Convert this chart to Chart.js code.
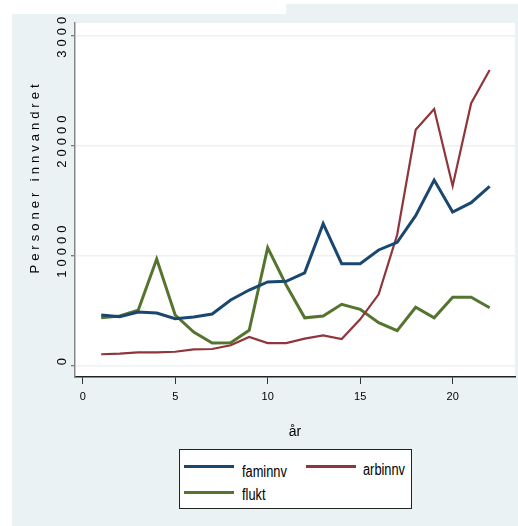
<!DOCTYPE html>
<html>
<head>
<meta charset="utf-8">
<script src="https://cdn.jsdelivr.net/npm/chart.js@4.4.1/dist/chart.umd.min.js"></script>
<style>
    body {
        margin: 0;
        width: 518px;
        height: 526px;
        position: relative;
        overflow: hidden;
        background: #fff;
    }
    #topStrip {
        position: absolute;
        left: 286px; top: 4px;
        width: 232px; height: 10px;
        background: #eaf2f3;
    }
    #wrap {
        position: absolute;
        left: 12px; top: 14px;
        width: 506px; height: 512px;
        background: #eaf2f3;
    }
    #legend {
        position: absolute;
        left: 167px; top: 435px;
        width: 231px; height: 58px;
        border: 1px solid #222;
        background: #fff;
        font-family: "Liberation Sans", Arial, sans-serif;
        font-size: 16px;
        color: #000;
    }
    #legend .swatch { position: absolute; width: 50px; height: 3px; }
    #legend .label {
        position: absolute;
        line-height: 16px;
        white-space: nowrap;
        transform: scaleX(0.8);
        transform-origin: 0 50%;
    }
</style>
</head>
<body>
<div id="topStrip"></div>
<div id="wrap">
    <canvas id="chart" width="506" height="512"></canvas>
    <div id="legend"></div>
</div>

<script>
// data
var years = [1, 2, 3, 4, 5, 6, 7, 8, 9, 10, 11, 12, 13, 14, 15, 16, 17, 18, 19, 20, 21, 22];
var faminnv = [4600, 4450, 4880, 4790, 4270, 4430, 4700, 5970, 6880, 7610, 7670, 8440, 12910, 9270, 9270, 10520, 11220, 13640, 16880, 13970, 14820, 16310];
var arbinnv = [1040, 1090, 1220, 1220, 1270, 1490, 1520, 1860, 2610, 2060, 2060, 2455, 2760, 2430, 4220, 6490, 11900, 21440, 23340, 16340, 23860, 26880];
var flukt = [4360, 4520, 5040, 9700, 4610, 3060, 2060, 2090, 3220, 10730, 7340, 4350, 4520, 5580, 5130, 3910, 3180, 5310, 4360, 6220, 6220, 5270];
var xTicks = [0, 5, 10, 15, 20];
var yTicks = [0, 10000, 20000, 30000];
var seriesNames = ['faminnv', 'arbinnv', 'flukt'];

var seriesColors = ['#1a476f', '#90353b', '#55752f'];
var seriesWidths = [3, 2.2, 3];
// legend slot positions (inside the legend box)
var legendSlots = [
    { sx: 4, sy: 15, lx: 62, ly: 14 },
    { sx: 126, sy: 15, lx: 183, ly: 12 },
    { sx: 4, sy: 41, lx: 62, ly: 37 }
];

function toPoints(values) {
    return years.map(function (x, i) { return { x: x, y: values[i] }; });
}

// white plot region
var plotBackground = {
    id: 'plotBackground',
    beforeDraw: function (chart) {
        var a = chart.chartArea;
        var ctx = chart.ctx;
        ctx.save();
        ctx.fillStyle = '#fff';
        ctx.fillRect(a.left, a.top, a.right - a.left, a.bottom - a.top);
        ctx.restore();
    }
};

// Stata-ish wide spacing on the y labels
var spacedYLabels = {
    id: 'spacedYLabels',
    beforeDraw: function (chart) {
        var y = chart.scales.y;
        if (y._spaced) return;
        var orig = y.drawLabels.bind(y);
        y.drawLabels = function (area) {
            var c = this.ctx;
            c.save();
            c.letterSpacing = '4px';
            orig(area);
            c.restore();
        };
        y._spaced = true;
    }
};

// y title, placed like the original (not centred on the axis)
var yTitle = {
    id: 'yTitle',
    afterDraw: function (chart) {
        var ctx = chart.ctx;
        ctx.save();
        ctx.translate(23, 163);
        ctx.rotate(-Math.PI / 2);
        ctx.font = '13px "Liberation Sans", Arial, sans-serif';
        ctx.letterSpacing = '4px';
        ctx.fillStyle = '#000';
        ctx.textAlign = 'center';
        ctx.textBaseline = 'middle';
        ctx.fillText('Personer innvandret', 0, 0);
        ctx.restore();
    }
};

var ctx = document.getElementById('chart').getContext('2d');
var chart = new Chart(ctx, {
    type: 'line',
    data: {
        datasets: [faminnv, arbinnv, flukt].map(function (vals, i) {
            return {
                label: seriesNames[i],
                data: toPoints(vals),
                borderColor: seriesColors[i],
                borderWidth: seriesWidths[i],
                pointRadius: 0,
                tension: 0,
                fill: false
            };
        })
    },
    options: {
        responsive: false,
        animation: false,
        layout: { padding: { left: 0, right: 3, top: 9, bottom: 0 } },
        plugins: {
            legend: { display: false },
            tooltip: { enabled: false }
        },
        scales: {
            x: {
                type: 'linear',
                min: -0.416,
                max: 23.37,
                afterBuildTicks: function (scale) {
                    scale.ticks = xTicks.map(function (v) { return { value: v }; });
                },
                afterFit: function (scale) { scale.height = 149; },
                grid: {
                    drawOnChartArea: false,
                    tickColor: '#333',
                    tickLength: 7,
                    tickWidth: 1
                },
                border: { color: '#222', width: 1.5 },
                ticks: {
                    color: '#000',
                    padding: 6,
                    maxRotation: 0,
                    callback: function (v) { return String(v); },
                    font: { family: '"Liberation Sans Narrow", "Liberation Sans", Arial, sans-serif', size: 11 }
                },
                title: {
                    display: true,
                    text: 'år',
                    color: '#000',
                    padding: { top: 0, bottom: 85 },
                    font: { family: '"Liberation Sans", Arial, sans-serif', size: 14 }
                }
            },
            y: {
                min: -1027,
                max: 31155,
                afterBuildTicks: function (scale) {
                    scale.ticks = yTicks.map(function (v) { return { value: v }; });
                },
                afterFit: function (scale) { scale.width = 63; },
                grid: {
                    color: '#eaf2f3',
                    lineWidth: 1.5,
                    tickColor: '#555',
                    tickLength: 4,
                    tickWidth: 1
                },
                border: { color: '#888', width: 1.5 },
                ticks: {
                    color: '#000',
                    minRotation: 90,
                    maxRotation: 90,
                    crossAlign: 'center',
                    padding: -9,
                    labelOffset: -6,
                    callback: function (v) { return String(v); },
                    font: { family: '"Liberation Sans", Arial, sans-serif', size: 13 }
                }
            }
        }
    },
    plugins: [plotBackground, spacedYLabels, yTitle]
});

// legend in a framed box, like the original
var legendBox = document.getElementById('legend');
seriesNames.forEach(function (name, i) {
    var slot = legendSlots[i];
    var sw = document.createElement('span');
    sw.className = 'swatch';
    sw.style.left = slot.sx + 'px';
    sw.style.top = slot.sy + 'px';
    sw.style.background = seriesColors[i];
    legendBox.appendChild(sw);

    var lb = document.createElement('span');
    lb.className = 'label';
    lb.style.left = slot.lx + 'px';
    lb.style.top = slot.ly + 'px';
    lb.textContent = name;
    legendBox.appendChild(lb);
});
</script>
</body>
</html>
